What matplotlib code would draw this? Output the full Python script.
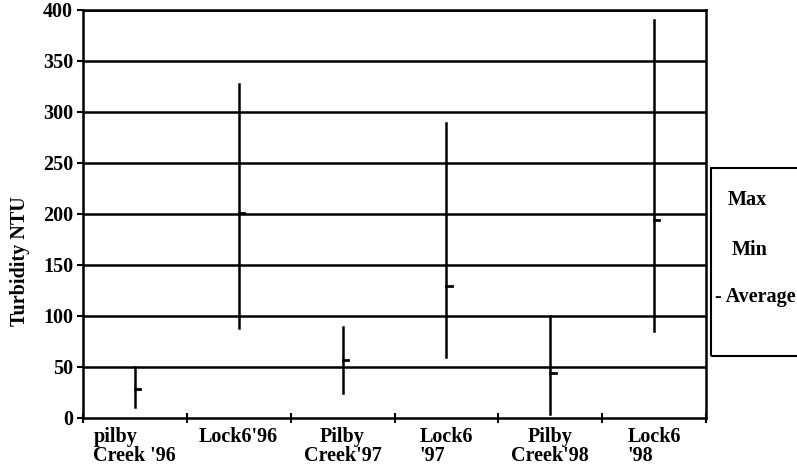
import matplotlib
matplotlib.use("Agg")
from matplotlib import pyplot as plt
from matplotlib.patches import Rectangle

# site / year categories
labels = ["pilby\nCreek '96", "Lock6'96", "Pilby\nCreek'97", "Lock6\n'97", "Pilby\nCreek'98", "Lock6\n'98"]
label_align = ["left", "center", "center", "left", "center", "left"]
max_ntu = [50, 327, 89, 289, 100, 390]
min_ntu = [11, 88, 24, 60, 4, 85]
avg_ntu = [28, 201, 57, 129, 44, 194]
y_ticks = [0, 50, 100, 150, 200, 250, 300, 350, 400]

serif = "Liberation Serif"
fs = 14.5

fig = plt.figure(figsize=(7.97, 4.70), dpi=100)
ax = fig.add_axes([0.104, 0.111, 0.782, 0.868])

x = [i + 0.5 for i in range(len(labels))]

for yv in y_ticks[1:]:
    ax.axhline(yv, color="black", lw=1.8, zorder=1)

for i in range(len(labels)):
    ax.plot([x[i], x[i]], [min_ntu[i], max_ntu[i]], color="black", lw=1.8, zorder=3)
    ax.plot([x[i], x[i] + 0.05], [avg_ntu[i], avg_ntu[i]], color="black", lw=2, zorder=3)

ax.set_xlim(0, len(labels))
ax.set_ylim(0, 400)
ax.set_yticks(y_ticks)
ax.set_yticklabels([str(v) for v in y_ticks], fontfamily=serif, fontweight="bold", fontsize=fs)
ax.tick_params(axis="y", direction="out", length=4, width=1.5, pad=3)

ax.set_xticks(range(len(labels) + 1))
ax.set_xticklabels([])
ax.tick_params(axis="x", direction="inout", length=7, width=1.5)

for i, lab in enumerate(labels):
    ax.text(x[i], -9, lab, ha="center", va="top", multialignment=label_align[i],
            fontfamily=serif, fontweight="bold", fontsize=fs, linespacing=0.95)

for s in ax.spines.values():
    s.set_linewidth(1.8)
    s.set_color("black")

fig.text(20 / 797, 1 - 261 / 470, "Turbidity NTU", rotation=90, ha="center", va="center",
         fontfamily=serif, fontweight="bold", fontsize=fs)

# legend box at right edge
fig.patches.append(Rectangle((711 / 797, 1 - 356 / 470), 0.2, 188 / 470,
                             transform=fig.transFigure, fill=False, ec="black", lw=1.5))
fig.text(728 / 797, 1 - 200 / 470, "Max", fontfamily=serif, fontweight="bold", fontsize=fs, va="center")
fig.text(732 / 797, 1 - 250 / 470, "Min", fontfamily=serif, fontweight="bold", fontsize=fs, va="center")
fig.text(715 / 797, 1 - 297 / 470, "- Average", fontfamily=serif, fontweight="bold", fontsize=fs, va="center")

fig.savefig("out.png", dpi=100)
